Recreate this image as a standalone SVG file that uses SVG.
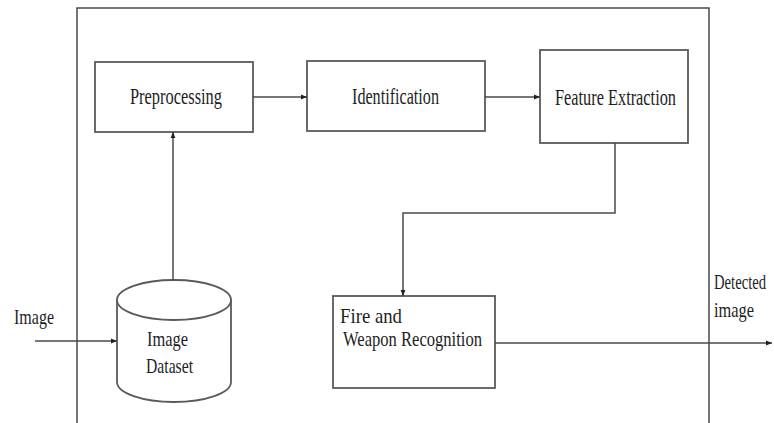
<svg xmlns="http://www.w3.org/2000/svg" width="774" height="423" viewBox="0 0 774 423">
<style>
.box{fill:#fff;stroke:#5a5a5a;stroke-width:1.8}
.ln{fill:none;stroke:#4a4a4a;stroke-width:1.5}
.t{font-family:"Liberation Serif","Times New Roman",serif;fill:#1e1e1e}
.big{font-size:24px}
.med{font-size:21px}
</style>
<defs>
<marker id="ah" viewBox="0 0 10 10" refX="10" refY="5" markerWidth="6" markerHeight="6" orient="auto" markerUnits="userSpaceOnUse">
<path d="M0,1 L10,5 L0,9 Z" fill="#222"/>
</marker>
</defs>
<rect width="774" height="423" fill="#fff"/>
<g id="frame"><path class="ln" d="M77,423 V8 H709 V423" stroke="#666" stroke-width="1.6"/></g>
<g id="preprocessing"><rect class="box" x="95" y="62" width="158" height="70"/><text class="t big" x="130" y="104" textLength="92" lengthAdjust="spacingAndGlyphs">Preprocessing</text></g>
<g id="identification"><rect class="box" x="307" y="61" width="178" height="70"/><text class="t big" x="352" y="104" textLength="87" lengthAdjust="spacingAndGlyphs">Identification</text></g>
<g id="feature-extraction"><rect class="box" x="540" y="50" width="148" height="93"/><text class="t big" x="555" y="105" textLength="121" lengthAdjust="spacingAndGlyphs">Feature Extraction</text></g>
<g id="recognition"><rect class="box" x="333" y="296" width="162" height="92"/><text class="t med" x="340" y="323" textLength="62" lengthAdjust="spacingAndGlyphs">Fire and</text><text class="t med" x="343" y="346" textLength="139" lengthAdjust="spacingAndGlyphs">Weapon Recognition</text></g>
<g id="image-dataset"><path class="box" d="M117,300 V382 A57,20 0 0 0 231,382 V300"/><ellipse class="box" cx="174" cy="300" rx="57" ry="20"/><text class="t med" x="147" y="346" textLength="41" lengthAdjust="spacingAndGlyphs">Image</text><text class="t med" x="146" y="373" textLength="47" lengthAdjust="spacingAndGlyphs">Dataset</text></g>
<g id="labels"><text class="t med" x="14" y="324" textLength="40" lengthAdjust="spacingAndGlyphs">Image</text><text class="t med" transform="translate(714,289) scale(0.7,1)" x="0" y="0">Detected</text><text class="t med" x="714" y="317" textLength="40" lengthAdjust="spacingAndGlyphs">image</text></g>
<g id="connectors">
<line class="ln" x1="253" y1="97" x2="307" y2="97" marker-end="url(#ah)"/>
<line class="ln" x1="485" y1="97" x2="540" y2="97" marker-end="url(#ah)"/>
<line class="ln" x1="173" y1="280" x2="173" y2="132" marker-end="url(#ah)"/>
<polyline class="ln" points="615,143 615,213 403,213 403,296" marker-end="url(#ah)"/>
<line class="ln" x1="35" y1="341" x2="117" y2="341" marker-end="url(#ah)"/>
<line class="ln" x1="495" y1="343" x2="772" y2="343" marker-end="url(#ah)"/>
</g>
</svg>
